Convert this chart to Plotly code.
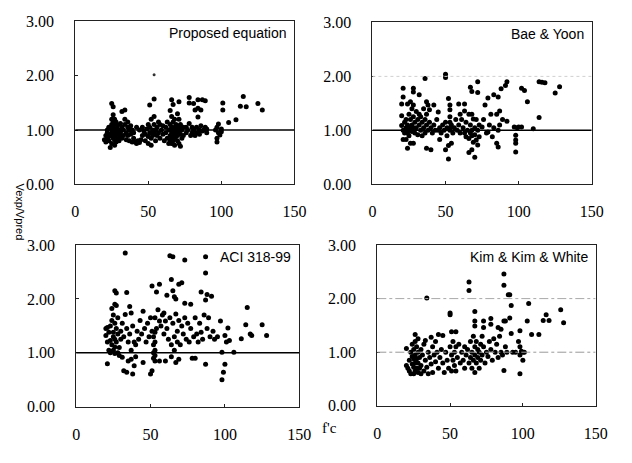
import plotly.graph_objects as go

# ---- data: f'c (MPa) vs. Vexp/Vpred for each shear-strength model ----
fc_proposed = [
    20, 21, 21, 22, 22, 22, 23, 23, 23, 24,
    24, 25, 25, 25, 25, 25, 25, 26, 26, 26, 26, 26, 26, 27, 27, 27, 27, 27, 27,
    28, 28, 28, 28, 29, 29, 29, 30, 30, 30,
    31, 31, 32, 32, 32, 33, 33, 34, 34, 34, 35, 35, 36, 36, 36, 37, 37, 38, 38, 39, 39, 40, 40,
    41, 42, 42, 43, 44, 44, 45, 46, 46, 47, 48, 48, 49, 50, 50, 50,
    51, 51, 51, 52, 52, 52, 53, 53, 54, 54, 54, 54, 55, 55, 56, 56, 57, 57,
    58, 58, 59, 60, 60, 61, 62, 62, 63, 63, 64, 64, 65, 65, 65, 65,
    66, 66, 66, 66, 66, 66, 67, 67, 67, 67, 67, 68, 68, 68, 68, 68, 69, 69, 69,
    70, 70, 70, 70, 71, 71, 71, 71, 71, 72, 72, 72, 73, 73, 74, 74,
    76, 76, 77, 78, 78, 78, 79, 80, 80, 81, 81, 82, 82, 83, 83, 84, 84, 84, 85, 85,
    86, 86, 87, 87, 88, 89, 89, 90, 90,
    96, 97, 97, 97, 98, 98, 99, 100, 100, 101, 101,
    105, 110, 113, 115, 117, 125, 128,
]
ratio_proposed = [
    0.82, 0.90, 0.78, 0.95, 0.85, 1.00, 0.88, 0.80, 1.05, 0.92,
    0.68, 1.49, 1.20, 1.10, 1.00, 0.90, 0.75, 1.43, 1.28, 1.15, 1.05, 0.95, 0.85, 1.20, 1.10, 1.02, 0.92, 0.82, 0.72,
    1.15, 1.00, 0.88, 0.78, 1.08, 0.95, 0.85, 1.00, 0.90, 0.80,
    1.12, 0.95, 1.34, 1.05, 0.85, 0.90, 1.00, 1.37, 1.20, 1.10, 0.95, 0.82, 1.15, 1.05, 0.90, 1.00, 0.80, 1.08, 0.92, 1.00, 0.78, 0.95, 0.85,
    0.78, 0.75, 1.05, 0.80, 0.77, 1.00, 0.82, 1.05, 0.90, 0.98, 0.92, 0.80, 1.02, 0.88, 0.75, 1.10,
    1.46, 1.05, 0.95, 1.20, 0.85, 0.72, 1.00, 0.90, 1.57, 1.25, 1.10, 0.95, 1.00, 0.80, 1.05, 0.90, 1.15, 0.95,
    0.85, 1.10, 1.00, 0.92, 1.08, 0.80, 1.05, 0.95, 0.85, 1.15, 1.00, 0.75, 1.36, 1.10, 0.90, 0.80,
    1.56, 1.25, 1.05, 0.95, 0.85, 0.75, 1.47, 1.15, 1.00, 0.90, 0.80, 1.20, 1.05, 0.95, 0.85, 0.72, 1.10, 0.98, 0.88,
    1.30, 1.00, 0.90, 0.80, 1.52, 1.20, 1.05, 0.95, 0.75, 1.10, 0.92, 0.70, 1.00, 0.85, 1.05, 0.90,
    1.05, 0.95, 1.00, 1.60, 1.50, 1.12, 0.90, 1.05, 0.95, 1.49, 1.00, 1.37, 0.90, 1.05, 0.95, 1.56, 1.40, 1.24, 1.00, 0.92,
    1.37, 1.08, 1.56, 0.98, 1.00, 1.54, 1.05, 0.95, 1.02,
    1.00, 0.85, 0.78, 1.05, 1.11, 0.95, 0.91, 0.97, 1.02, 1.50, 1.37,
    1.14, 1.19, 1.44, 1.62, 1.43, 1.49, 1.37,
]
fc_proposed_stray = [54]
ratio_proposed_stray = [2.02]

fc_bae = [
    20, 20, 20, 21, 21, 21, 21, 22, 22, 23, 23, 23, 24, 24, 24, 24, 25, 25, 25,
    26, 26, 26, 26, 27, 27, 27, 28, 28, 28, 28, 28, 28, 29, 29, 30, 30, 31, 31,
    32, 32, 32, 33, 33, 34, 34, 35, 35, 36, 36, 36,
    37, 37, 37, 37, 38, 38, 39, 39, 40, 40, 41, 42, 42, 43, 44, 45, 45, 46, 46,
    47, 48, 49, 50, 50, 50, 50, 51, 51,
    52, 52, 52, 53, 53, 53, 53, 53, 53, 54, 54, 55, 56, 57, 58, 59, 59, 60, 60,
    61, 62, 63, 63, 63, 64, 64, 65, 66, 66, 66, 67, 67, 67, 68, 68, 68, 68, 68,
    69, 69, 70, 70, 70, 71, 71, 72, 72, 72, 72, 73, 73,
    75, 76, 77, 78, 79, 79, 80, 81, 82, 83, 83, 85, 85, 86, 86, 86, 87, 87, 88, 89, 91, 92, 92,
    97, 98, 98, 98, 98, 99, 100, 102, 102, 104,
    106, 110, 114, 114, 116, 118, 125, 128,
]
ratio_bae = [
    1.49, 1.09, 1.27, 1.62, 1.78, 0.83, 1.00, 1.15, 0.95, 0.83, 1.20, 1.05, 1.49, 0.67, 1.10, 0.95, 1.30, 1.00, 0.90,
    1.53, 0.76, 1.20, 1.05, 1.40, 1.10, 0.98, 1.78, 1.71, 1.47, 0.76, 1.25, 1.05, 1.15, 0.95, 1.35, 1.05, 1.20, 0.92,
    1.66, 1.30, 1.10, 1.00, 1.25, 1.15, 0.90, 1.40, 1.05, 1.96, 1.20, 0.95,
    1.53, 1.30, 0.67, 1.10, 1.47, 1.00, 1.38, 1.15, 0.64, 1.05, 0.95, 1.47, 1.10, 1.00, 1.20, 1.34, 1.00, 0.83, 1.05,
    0.95, 1.10, 1.00, 2.04, 1.98, 0.64, 1.15, 1.05, 0.90,
    0.72, 0.47, 1.59, 1.47, 1.38, 1.25, 1.15, 1.05, 1.00, 0.76, 1.10, 0.95, 1.05, 1.20, 1.00, 1.49, 1.10, 0.95, 1.30,
    1.20, 1.05, 1.49, 1.36, 0.95, 0.88, 1.15, 1.00, 0.59, 1.30, 0.85, 1.80, 1.10, 0.95, 1.72, 1.30, 0.64, 1.00, 0.90,
    1.21, 0.78, 0.50, 1.05, 0.92, 0.82, 1.20, 1.90, 1.70, 0.73, 1.00, 1.10, 0.88,
    1.06, 1.20, 1.47, 0.95, 1.60, 0.97, 1.10, 1.30, 0.88, 1.66, 1.05, 1.30, 0.76, 1.62, 0.69, 1.00, 1.36, 1.10, 1.77, 1.20, 1.83, 1.90, 1.17,
    1.06, 0.91, 0.82, 0.76, 0.60, 1.05, 1.06, 1.06, 1.78, 1.74,
    1.53, 1.03, 1.24, 1.90, 1.89, 1.88, 1.69, 1.81,
]

fc_aci = [
    20, 20, 21, 21, 21, 22, 22, 23, 23, 23, 24, 24, 24, 25, 25, 25, 25, 26, 26, 26, 26, 26, 26,
    27, 27, 27, 27, 28, 28, 28, 29, 29, 30, 30, 31, 31, 32, 32, 33, 33, 34, 34, 34, 35, 35,
    36, 36, 37, 37, 37, 38, 38, 39, 39, 40, 40, 41, 42,
    43, 44, 45, 45, 46, 47, 48, 49, 50, 50, 51, 51, 51, 52, 52, 52, 52, 53, 53, 53, 53, 53, 53,
    54, 54, 55, 56, 56, 56, 57,
    58, 59, 59, 60, 60, 61, 61, 62, 63, 63, 64, 64, 64, 65, 65, 65, 66, 66, 66, 67, 67, 67,
    68, 68, 69, 69, 69, 70, 71, 71, 72, 73, 73, 73, 74, 75,
    76, 77, 77, 78, 79, 80, 80, 81, 82, 83, 84, 84, 85, 86, 87, 87, 87, 87, 88, 88, 89, 90, 91, 92, 93, 95,
    97, 98, 98, 99, 100, 100, 101, 102, 103, 106, 111, 114, 115, 117, 118, 125, 128,
]
ratio_aci = [
    1.32, 1.45, 1.47, 0.80, 1.20, 1.38, 1.05, 1.23, 1.50, 1.00, 1.82, 1.60, 1.15, 1.38, 1.70, 1.30, 1.05, 2.15, 1.11, 0.99, 1.90, 1.55, 1.25,
    2.11, 1.88, 1.45, 1.20, 1.65, 1.00, 1.35, 1.10, 0.95, 1.40, 1.25, 1.55, 0.92, 0.67, 1.30, 2.85, 1.71, 2.12, 0.64, 1.45, 1.20, 0.85,
    1.86, 1.35, 0.88, 1.74, 1.05, 0.61, 1.50, 0.76, 1.20, 0.93, 1.15, 1.40, 1.25,
    1.60, 1.35, 1.77, 0.82, 1.45, 1.20, 1.55, 1.30, 1.65, 0.61, 0.67, 2.24, 1.40, 1.00, 1.15, 1.30, 0.90, 1.65, 0.85, 1.05, 1.20, 1.38, 0.95,
    2.13, 1.45, 1.80, 2.27, 1.59, 0.85, 1.50,
    1.70, 1.74, 1.35, 0.85, 1.59, 2.07, 1.45, 1.25, 2.80, 1.65, 2.36, 0.93, 1.15, 2.78, 2.15, 1.55, 2.04, 1.30, 1.05, 2.00, 0.82, 1.72,
    1.40, 1.20, 2.27, 0.88, 1.60, 1.15, 2.30, 1.50, 1.35, 2.72, 1.92, 1.65, 1.25, 1.55,
    1.20, 1.90, 1.45, 0.90, 1.30, 0.90, 1.65, 1.35, 1.20, 1.55, 2.13, 1.38, 1.25, 1.70, 2.78, 2.48, 1.98, 0.79, 2.08, 1.45, 1.65, 1.30, 2.05, 1.40, 1.25, 1.30,
    1.59, 1.01, 0.50, 0.64, 0.79, 1.32, 1.20, 1.46, 1.23, 1.01, 1.26, 1.52, 1.84, 1.35, 1.32, 1.52, 1.32,
]

fc_kim = [
    20, 20, 21, 22, 22, 23, 23, 24, 24, 24, 25, 25, 25, 25, 26, 26, 26, 26, 26,
    27, 27, 27, 28, 28, 28, 28, 29, 29, 30, 30, 30,
    31, 32, 32, 33, 33, 34, 34, 35, 35, 36, 37, 37, 38, 38, 39, 40, 40, 41, 42, 42, 43, 44, 45, 45, 46,
    47, 48, 49, 50, 50, 50, 51, 51, 51, 52, 52, 53, 53, 54, 54, 54, 55, 56, 57, 58, 59, 60, 60,
    61, 62, 63, 63, 63, 64, 64, 65, 65, 66, 66, 67, 67, 67, 67, 67, 67, 68, 68, 69, 69,
    70, 70, 71, 71, 72, 72, 73, 73, 73, 74, 75,
    76, 77, 78, 78, 78, 79, 80, 81, 82, 83, 83, 84, 85, 85, 86, 87, 87, 87, 87, 88, 88, 89,
    90, 91, 91, 92, 92, 93, 95,
    97, 98, 98, 98, 98, 99, 100, 100, 101, 103, 104, 106, 111, 114, 116, 118, 126, 128,
]
ratio_kim = [
    1.07, 0.75, 0.70, 0.65, 0.85, 1.00, 0.60, 0.78, 0.92, 1.15, 0.60, 0.72, 0.88, 1.05, 1.33, 1.20, 0.95, 0.80, 0.65,
    1.10, 0.70, 0.88, 1.25, 0.62, 1.00, 0.80, 0.90, 0.70, 1.05, 0.75, 0.60,
    0.95, 0.65, 1.15, 1.22, 0.85, 2.01, 0.72, 1.00, 0.60, 0.90, 1.28, 0.78, 1.10, 0.62, 0.95, 1.20, 0.82, 1.00, 1.33, 0.70, 0.90, 1.05, 1.31, 0.80, 0.62,
    1.00, 0.85, 0.70, 1.73, 1.70, 1.10, 1.38, 0.95, 0.65, 1.20, 0.85, 1.00, 0.75, 1.38, 1.10, 0.65, 0.90, 1.15, 0.80, 1.00, 0.85, 1.10, 0.70,
    0.95, 1.05, 2.31, 2.15, 0.80, 1.20, 0.90, 1.00, 0.70, 1.30, 0.85, 1.76, 1.58, 1.49, 1.10, 0.95, 0.62, 1.20, 0.80, 1.05, 0.90,
    1.00, 0.70, 1.15, 0.85, 1.30, 0.95, 1.58, 1.46, 1.10, 0.80, 1.00,
    0.92, 1.20, 1.63, 1.52, 1.05, 0.85, 1.25, 1.00, 1.15, 1.46, 0.90, 1.30, 1.43, 1.00, 0.95, 2.46, 2.25, 1.58, 0.66, 1.58, 1.10, 1.00,
    2.07, 2.07, 1.64, 1.87, 1.35, 1.00, 1.00,
    1.20, 1.40, 1.10, 0.95, 0.60, 1.02, 0.85, 1.00, 1.00, 1.58, 1.91, 1.33, 1.33, 1.59, 1.70, 1.59, 1.79, 1.55,
]

panel_titles = ["Proposed equation", "Bae & Yoon", "ACI 318-99", "Kim & Kim & White"]
x_ticks = [0, 50, 100, 150]
y_ticks = [0.0, 1.0, 2.0, 3.0]

series = [
    (fc_proposed, ratio_proposed),
    (fc_bae, ratio_bae),
    (fc_aci, ratio_aci),
    (fc_kim, ratio_kim),
]
for xs, ys in series:
    assert len(xs) == len(ys)

# plot-area placement of the four panels, in pixels (left, right, top, bottom)
W, H = 632, 463
boxes = [
    (73, 298, 14, 183),
    (378, 603, 15, 183),
    (74, 303, 246, 414),
    (383, 607, 246, 413),
]

SERIF = "Liberation Serif, Times New Roman, serif"
SANS = "Liberation Sans, Arial, sans-serif"

fig = go.Figure()
layout = dict(
    width=W, height=H,
    margin=dict(l=0, r=0, t=0, b=0),
    paper_bgcolor="white", plot_bgcolor="white",
    showlegend=False,
    annotations=[], shapes=[],
)

for i, ((xs, ys), (l, r, t, b), title) in enumerate(zip(series, boxes, panel_titles)):
    n = "" if i == 0 else str(i + 1)
    xa, ya = "x" + n, "y" + n
    fig.add_trace(go.Scatter(
        x=xs, y=ys, mode="markers", xaxis=xa, yaxis=ya,
        marker=dict(color="black", size=5, line=dict(width=0)),
        hoverinfo="x+y",
    ))
    common = dict(showgrid=False, zeroline=False, showline=True, mirror=True,
                  linecolor="#222", linewidth=1, ticks="inside", ticklen=3,
                  tickcolor="#222", tickfont=dict(family=SERIF, size=16, color="black"))
    layout["xaxis" + n] = dict(
        common, domain=[l / W, r / W], anchor=ya, range=[0, 150],
        tickvals=x_ticks, ticklabelstandoff=13,
    )
    layout["yaxis" + n] = dict(
        common, domain=[1 - b / H, 1 - t / H], anchor=xa, range=[0, 3],
        tickvals=y_ticks, tickformat=".2f", ticklabelstandoff=17,
    )
    layout["annotations"].append(dict(
        x=146, y=2.78, xref=xa, yref=ya, text=title, showarrow=False,
        xanchor="right", yanchor="middle",
        font=dict(family=SANS, size=14, color="black"),
    ))
    # unity reference line
    if i < 3:
        layout["shapes"].append(dict(type="line", xref=xa, yref=ya, x0=0, x1=150, y0=1, y1=1,
                                     line=dict(color="black", width=1.5)))
    else:
        layout["shapes"].append(dict(type="line", xref=xa, yref=ya, x0=0, x1=150, y0=1, y1=1,
                                     line=dict(color="#999", width=1, dash="dashdot")))
        layout["shapes"].append(dict(type="line", xref=xa, yref=ya, x0=0, x1=150, y0=2, y1=2,
                                     line=dict(color="#aaa", width=1, dash="dashdot")))
    if i == 1:
        layout["shapes"].append(dict(type="line", xref=xa, yref=ya, x0=0, x1=150, y0=2, y1=2,
                                     line=dict(color="#d0d0d0", width=1, dash="dot")))

# faint stray point in the first panel
fig.add_trace(go.Scatter(
    x=fc_proposed_stray, y=ratio_proposed_stray, mode="markers", xaxis="x", yaxis="y",
    marker=dict(color="#333", size=3), hoverinfo="x+y",
))

layout["annotations"].append(dict(
    x=8 / W, y=1 - 212 / H, xref="paper", yref="paper", text="Vexp/Vpred",
    textangle=90, showarrow=False, font=dict(family=SANS, size=11, color="black"),
))
layout["annotations"].append(dict(
    x=334 / W, y=1 - 446 / H, xref="paper", yref="paper", text="f'c",
    showarrow=False, font=dict(family=SERIF, size=15, color="black"),
))

fig.update_layout(**layout)
fig.write_html("out.html")
